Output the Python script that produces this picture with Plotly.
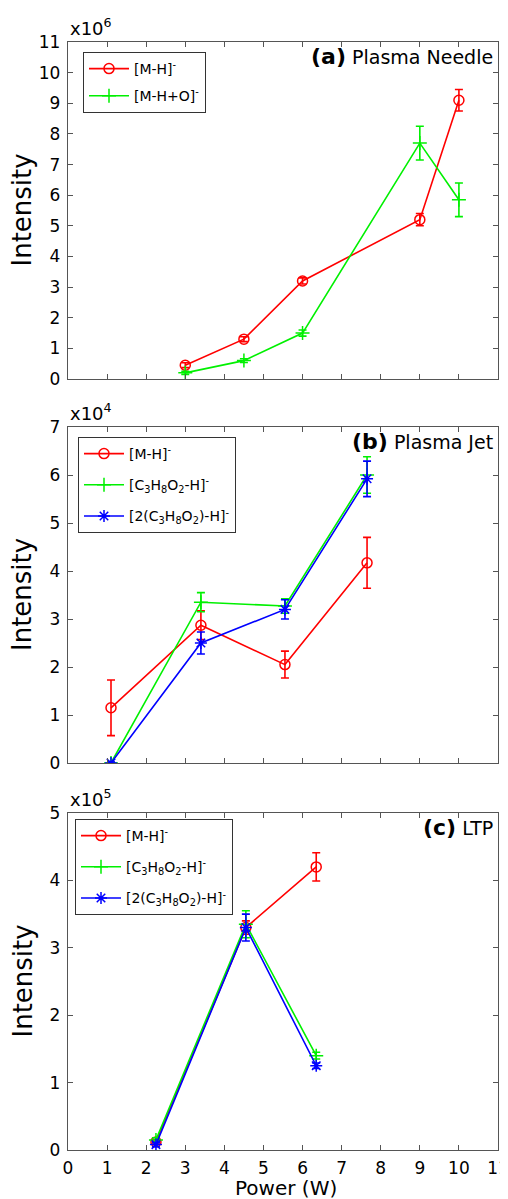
import plotly.graph_objects as go

# ---------- data (values in units of the axis multiplier) ----------
# (a) Plasma Needle, x10^6
a_x = [3.0, 4.5, 6.0, 9.0, 10.0]
a_mh = [0.45, 1.3, 3.2, 5.2, 9.1]
a_mh_err = [0.08, 0.08, 0.1, 0.2, 0.35]
a_mho = [0.2, 0.6, 1.5, 7.7, 5.85]
a_mho_err = [0.05, 0.06, 0.1, 0.55, 0.55]

# (b) Plasma Jet, x10^4
b_x = [1.1, 3.4, 5.55, 7.65]
b_mh = [1.15, 2.87, 2.05, 4.17]
b_mh_err = [0.58, 0.3, 0.28, 0.53]
b_c3 = [0.0, 3.35, 3.27, 6.0]
b_c3_err = [0.02, 0.2, 0.15, 0.38]
b_2c3 = [0.0, 2.5, 3.2, 5.92]
b_2c3_err = [0.02, 0.23, 0.2, 0.37]

# (c) LTP, x10^5
c_x = [2.25, 4.55, 6.35]
c_mh = [0.12, 3.3, 4.2]
c_mh_err = [0.03, 0.1, 0.21]
c_c3 = [0.15, 3.35, 1.4]
c_c3_err = [0.03, 0.2, 0.05]
c_2c3 = [0.08, 3.3, 1.25]
c_2c3_err = [0.03, 0.2, 0.04]

x_ticks = list(range(0, 12))
a_yticks = list(range(0, 12))
b_yticks = list(range(0, 8))
c_yticks = list(range(0, 6))

names_a = ["[M-H]<sup>-</sup>", "[M-H+O]<sup>-</sup>"]
names_bc = ["[M-H]<sup>-</sup>",
            "[C<sub>3</sub>H<sub>8</sub>O<sub>2</sub>-H]<sup>-</sup>",
            "[2(C<sub>3</sub>H<sub>8</sub>O<sub>2</sub>)-H]<sup>-</sup>"]

RED, GREEN, BLUE = "#ff0000", "#00f000", "#0000ff"
FONT = "DejaVu Sans"

fig = go.Figure()
_gid = [0]


def add(x, y, err, name, color, symbol, xa, ya, leg):
    _gid[0] += 1
    fig.add_trace(go.Scatter(
        x=x, y=y, name=name, mode="lines+markers",
        line=dict(color=color, width=1.6),
        marker=dict(symbol=symbol, size=10, color=color,
                    line=dict(color=color, width=1.5)),
        error_y=dict(type="data", array=err, color=color, thickness=1.6, width=4),
        xaxis=xa, yaxis=ya, legend=leg, legendgroup="g%d" % _gid[0],
    ))


add(a_x, a_mh, a_mh_err, names_a[0], RED, "circle-open", "x", "y", "legend")
add(a_x, a_mho, a_mho_err, names_a[1], GREEN, "cross-thin-open", "x", "y", "legend")

add(b_x, b_mh, b_mh_err, names_bc[0], RED, "circle-open", "x2", "y2", "legend2")
add(b_x, b_c3, b_c3_err, names_bc[1], GREEN, "cross-thin-open", "x2", "y2", "legend2")
add(b_x, b_2c3, b_2c3_err, names_bc[2], BLUE, "asterisk-open", "x2", "y2", "legend2")

add(c_x, c_mh, c_mh_err, names_bc[0], RED, "circle-open", "x3", "y3", "legend3")
add(c_x, c_c3, c_c3_err, names_bc[1], GREEN, "cross-thin-open", "x3", "y3", "legend3")
add(c_x, c_2c3, c_2c3_err, names_bc[2], BLUE, "asterisk-open", "x3", "y3", "legend3")

# The page body has an 8px margin, so figure pixel = page pixel - 8
OFF = 8
W, H = 508 - OFF, 1199 - OFF
H_TOP, H_BOT = 42 - OFF, 1150 - OFF
SPAN = H_BOT - H_TOP
L, R = 68 - OFF, 498 - OFF


def dom(top, bot):
    return [(H_BOT - (bot - OFF)) / SPAN, (H_BOT - (top - OFF)) / SPAN]


doms = [dom(42, 379), dom(427, 763), dom(813, 1150)]

axis_common = dict(showline=True, linecolor="#555555", linewidth=1.3, mirror="ticks",
                   ticks="inside", ticklen=5, tickcolor="#555555", showgrid=False,
                   zeroline=False, automargin=False, ticklabeloverflow="allow",
                   tickfont=dict(family=FONT, size=17, color="black"))

layout = dict(
    width=W, height=H,
    margin=dict(l=L, r=W - R, t=H_TOP, b=H - H_BOT, autoexpand=False),
    paper_bgcolor="white", plot_bgcolor="white",
    font=dict(family=FONT, color="black"),
    showlegend=True,
)

yticks_list = [a_yticks, b_yticks, c_yticks]
for i in range(3):
    sfx = "" if i == 0 else str(i + 1)
    xa = dict(axis_common, range=[0, 11], tickvals=x_ticks, anchor="y" + sfx,
              domain=[0, 1], showticklabels=(i == 2), ticklabelstandoff=2)
    if i != 2:
        xa["matches"] = "x3"
    yv = yticks_list[i]
    ya = dict(axis_common, range=[yv[0], yv[-1]], tickvals=yv, anchor="x" + sfx,
              domain=doms[i], ticklabelstandoff=3)
    layout["xaxis" + sfx] = xa
    layout["yaxis" + sfx] = ya


def px_x(px):
    return (px - OFF - L) / (R - L)


def px_y(py):
    return (H_BOT - (py - OFF)) / SPAN


leg_common = dict(bgcolor="white", bordercolor="#333333", borderwidth=1,
                  font=dict(family=FONT, size=14, color="black"),
                  xanchor="left", yanchor="top", itemwidth=40)
layout["legend"] = dict(leg_common, x=px_x(83), y=px_y(52), tracegroupgap=6)
layout["legend2"] = dict(leg_common, x=px_x(78), y=px_y(437), tracegroupgap=10)
layout["legend3"] = dict(leg_common, x=px_x(75), y=px_y(819), tracegroupgap=10)

fig.update_layout(**layout)

labels = [("(a)", "Plasma Needle", "10<sup>6</sup>"),
          ("(b)", "Plasma Jet", "10<sup>4</sup>"),
          ("(c)", "LTP", "10<sup>5</sup>")]
for i, (tag, txt, exp) in enumerate(labels):
    top = doms[i][1]
    mid = (doms[i][0] + doms[i][1]) / 2
    fig.add_annotation(xref="paper", yref="paper", x=1, y=top, xanchor="right",
                       yanchor="top", xshift=-3, yshift=0, showarrow=False,
                       text=f"<b><span style='font-size:22px'>{tag}</span></b> {txt}",
                       font=dict(family=FONT, size=19, color="black"))
    fig.add_annotation(xref="paper", yref="paper", x=0, y=top, xanchor="left",
                       yanchor="bottom", xshift=0, yshift=1, showarrow=False,
                       text="x" + exp, font=dict(family=FONT, size=18, color="black"))
    fig.add_annotation(xref="paper", yref="paper", x=0, y=mid, xanchor="center",
                       yanchor="middle", xshift=-(68 - 22), showarrow=False,
                       textangle=-90, text="Intensity",
                       font=dict(family=FONT, size=26, color="black"))

fig.add_annotation(xref="paper", yref="paper", x=px_x(286), y=0, xanchor="center",
                   yanchor="middle", yshift=-(1188 - 1150), showarrow=False,
                   text="Power (W)", font=dict(family=FONT, size=20, color="black"))

fig.write_html("out.html")
